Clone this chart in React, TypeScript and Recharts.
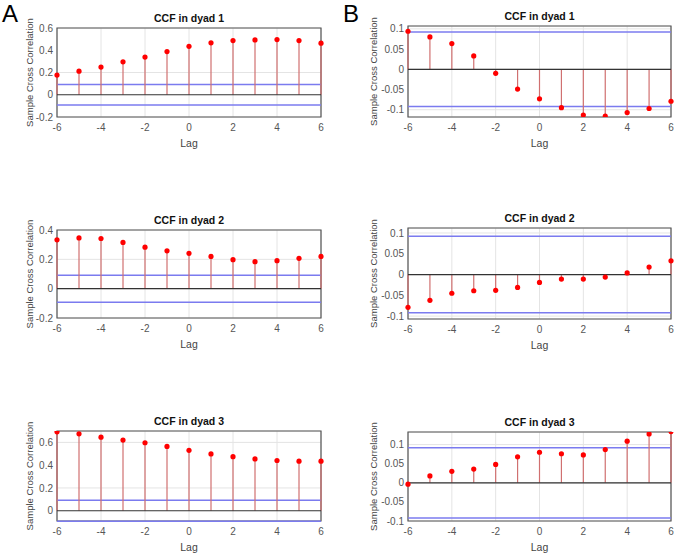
import {
  ComposedChart,
  Scatter,
  XAxis,
  YAxis,
  CartesianGrid,
  ReferenceLine,
  ReferenceArea,
  Label,
} from 'recharts';

const lags = [-6, -5, -4, -3, -2, -1, 0, 1, 2, 3, 4, 5, 6];
const lagTicks = [-6, -4, -2, 0, 2, 4, 6];
const bound = 0.092;

const dyadA1 = [0.177, 0.212, 0.249, 0.296, 0.339, 0.388, 0.435, 0.467, 0.487, 0.493, 0.496, 0.487, 0.464];
const dyadA2 = [0.333, 0.346, 0.342, 0.315, 0.283, 0.258, 0.24, 0.22, 0.198, 0.184, 0.191, 0.207, 0.22];
const dyadA3 = [0.693, 0.675, 0.646, 0.62, 0.597, 0.565, 0.53, 0.499, 0.475, 0.455, 0.441, 0.435, 0.435];
const dyadB1 = [0.094, 0.08, 0.0635, 0.033, -0.01, -0.049, -0.073, -0.095, -0.113, -0.116, -0.107, -0.097, -0.079];
const dyadB2 = [-0.079, -0.062, -0.045, -0.039, -0.038, -0.031, -0.019, -0.011, -0.011, -0.006, 0.004, 0.018, 0.033];
const dyadB3 = [-0.0035, 0.018, 0.03, 0.036, 0.048, 0.068, 0.08, 0.076, 0.073, 0.087, 0.109, 0.128, 0.134];

const ticksA1 = [-0.2, 0, 0.2, 0.4, 0.6];
const ticksA2 = [-0.2, 0, 0.2, 0.4];
const ticksA3 = [0, 0.2, 0.4, 0.6];
const ticksB = [-0.1, -0.05, 0, 0.05, 0.1];

const FONT = '"Liberation Sans", Arial, sans-serif';
const YAXIS_W = 60;
const TOP = 20;
const RIGHT = 15;
const XAXIS_H = 36;

interface PanelProps {
  title: string;
  values: number[];
  domain: [number, number];
  yTicks: number[];
  plotLeft: number;
  plotTop: number;
  plotW: number;
  plotH: number;
  labelOffset: number;
}

function Panel({ title, values, domain, yTicks, plotLeft, plotTop, plotW, plotH, labelOffset }: PanelProps) {
  const data = lags.map((lag, i) => ({ lag, value: values[i] }));
  return (
    <>
      <div
        style={{
          position: 'absolute',
          left: plotLeft,
          top: plotTop - 16,
          width: plotW,
          textAlign: 'center',
          fontFamily: FONT,
          fontWeight: 'bold',
          fontSize: 10.5,
          lineHeight: '12px',
          color: '#111',
        }}
      >
        {title}
      </div>
      <div style={{ position: 'absolute', left: plotLeft - YAXIS_W, top: plotTop - TOP }}>
        <ComposedChart
          width={plotW + YAXIS_W + RIGHT}
          height={plotH + TOP + XAXIS_H}
          data={data}
          margin={{ top: TOP, right: RIGHT, left: 0, bottom: 0 }}
          style={{ fontFamily: FONT }}
        >
          <CartesianGrid stroke="#e4e4e4" />
          <XAxis
            dataKey="lag"
            type="number"
            domain={[-6, 6]}
            ticks={lagTicks}
            tickSize={0}
            tickMargin={7}
            axisLine={false}
            tick={{ fontSize: 10, fill: '#555' }}
            height={XAXIS_H}
          >
            <Label value="Lag" position="insideBottom" offset={6} style={{ fontSize: 10.5, fill: '#444' }} />
          </XAxis>
          <YAxis
            type="number"
            domain={domain}
            ticks={yTicks}
            allowDataOverflow
            tickSize={0}
            tickMargin={4}
            axisLine={false}
            tick={{ fontSize: 10, fill: '#555' }}
            width={YAXIS_W}
          >
            <Label
              value="Sample Cross Correlation"
              angle={-90}
              position="insideLeft"
              offset={labelOffset}
              style={{ textAnchor: 'middle', fontSize: 9.5, fill: '#444' }}
            />
          </YAxis>
          <ReferenceLine y={bound} stroke="#7b7bef" strokeWidth={1.5} ifOverflow="visible" />
          <ReferenceLine y={-bound} stroke="#7b7bef" strokeWidth={1.5} ifOverflow="visible" />
          {data.map((d) => (
            <ReferenceLine
              key={d.lag}
              segment={[
                { x: d.lag, y: 0 },
                { x: d.lag, y: d.value },
              ]}
              stroke="#d07070"
              strokeWidth={1.2}
              ifOverflow="visible"
            />
          ))}
          <ReferenceLine y={0} stroke="#333" strokeWidth={1.2} ifOverflow="visible" />
          <ReferenceArea
            x1={-6}
            x2={6}
            y1={domain[0]}
            y2={domain[1]}
            fill="none"
            stroke="#555"
            strokeWidth={1.2}
            ifOverflow="visible"
          />
          <Scatter
            dataKey="value"
            isAnimationActive={false}
            shape={(p: any) => <circle cx={p.cx} cy={p.cy} r={2.6} fill="#ff0000" />}
          />
        </ComposedChart>
      </div>
    </>
  );
}

export default function App() {
  return (
    <div
      style={{
        position: 'absolute',
        left: 0,
        top: 0,
        width: 685,
        height: 556,
        background: '#fff',
        overflow: 'hidden',
      }}
    >
      <div style={{ position: 'absolute', left: 2, top: 0, fontFamily: FONT, fontSize: 24, lineHeight: '28px', color: '#000' }}>A</div>
      <div style={{ position: 'absolute', left: 343, top: 0, fontFamily: FONT, fontSize: 24, lineHeight: '28px', color: '#000' }}>B</div>

      <Panel title="CCF in dyad 1" values={dyadA1} domain={[-0.2, 0.6]} yTicks={ticksA1}
        plotLeft={57} plotTop={28} plotW={264} plotH={89} labelOffset={33} />
      <Panel title="CCF in dyad 2" values={dyadA2} domain={[-0.2, 0.4]} yTicks={ticksA2}
        plotLeft={57} plotTop={230} plotW={264} plotH={88} labelOffset={33} />
      <Panel title="CCF in dyad 3" values={dyadA3} domain={[-0.09, 0.7]} yTicks={ticksA3}
        plotLeft={57} plotTop={431} plotW={264} plotH={90} labelOffset={33} />

      <Panel title="CCF in dyad 1" values={dyadB1} domain={[-0.118, 0.107]} yTicks={ticksB}
        plotLeft={408} plotTop={26} plotW={263} plotH={91} labelOffset={26} />
      <Panel title="CCF in dyad 2" values={dyadB2} domain={[-0.107, 0.112]} yTicks={ticksB}
        plotLeft={408} plotTop={228} plotW={263} plotH={91} labelOffset={26} />
      <Panel title="CCF in dyad 3" values={dyadB3} domain={[-0.1, 0.133]} yTicks={ticksB}
        plotLeft={408} plotTop={432} plotW={263} plotH={89} labelOffset={26} />
    </div>
  );
}
